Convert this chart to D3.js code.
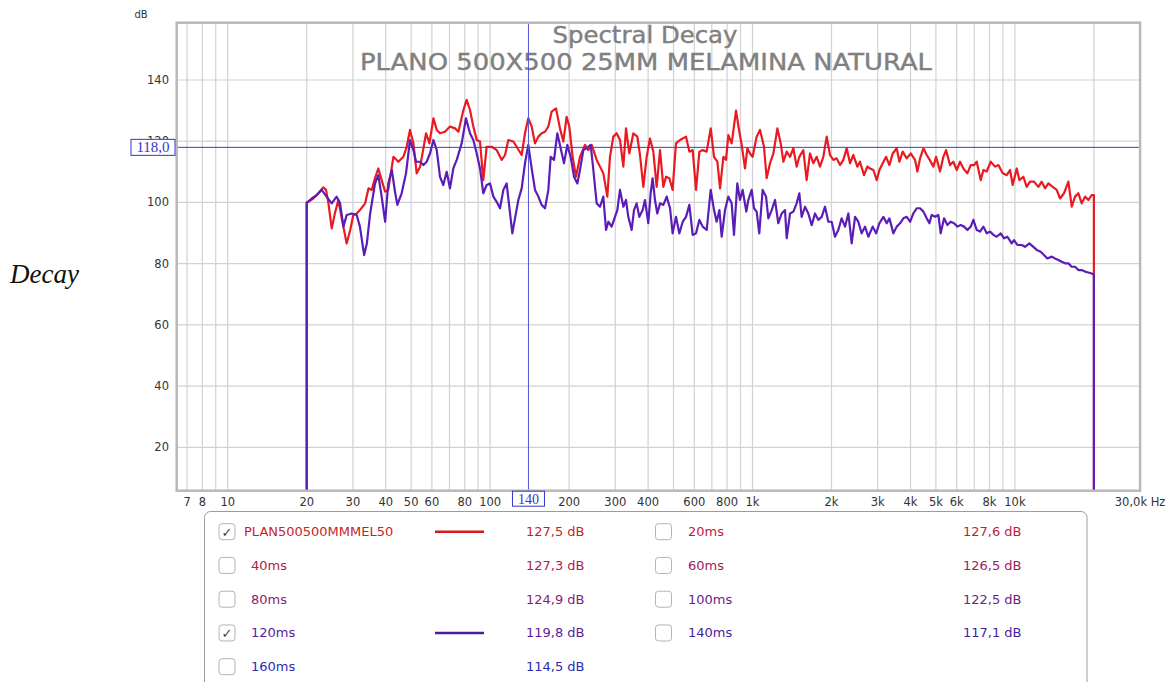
<!DOCTYPE html>
<html>
<head>
<meta charset="utf-8">
<script src="https://cdn.jsdelivr.net/npm/d3@7"></script>
<style>
  html, body { margin: 0; padding: 0; background: #fff; }
  svg { display: block; font-family: "DejaVu Sans", sans-serif; }
</style>
</head>
<body>
<div id="chart"></div>
<script>
// Spectral decay slices: [Hz, dB]
const slice0ms = [
  [20, 99.9], [21.2, 101.3], [22.1, 102.8], [23.1, 104.9], [23.7, 104.1], [24.2, 99.7], [24.9, 91.5],
  [25.6, 96.4], [26.4, 100.8], [27.2, 94.8], [28.4, 86.6], [29.3, 91.0], [30.1, 95.9], [31.0, 96.4],
  [31.9, 97.5], [33.4, 99.7], [34.4, 104.6], [35.4, 104.1], [36.4, 107.9], [37.5, 111.1], [38.6, 107.3],
  [39.8, 103.5], [40.9, 104.1], [42.8, 114.9], [44.7, 113.3], [46.7, 114.9], [48.1, 118.2], [49.5, 123.7],
  [51.0, 119.3], [52.5, 109.5], [54.1, 111.7], [55.7, 117.7], [57.0, 122.6], [58.7, 119.3], [60.8, 127.5],
  [62.6, 123.7], [64.4, 122.6], [67.3, 123.1], [70.3, 124.8], [73.5, 124.2], [75.7, 123.1], [79.1, 130.2],
  [81.4, 133.5], [83.8, 130.2], [86.3, 124.8], [88.9, 120.4], [91.5, 119.9],
  [94.2, 107.3], [97.0, 118.2], [101.4, 118.2], [105.9, 117.1], [110.7, 113.9], [114.0, 115.5],
  [117.3, 120.4], [122.6, 119.9], [126.2, 118.2], [131.9, 115.5], [135.8, 122.6], [139.8, 127.5],
  [144.0, 124.8], [148.3, 119.3], [152.7, 121.5], [157.2, 122.6], [161.9, 123.1], [166.7, 124.8],
  [171.6, 129.7], [178.3, 130.7], [184.6, 124.2], [190.1, 119.9], [195.7, 128.0], [200.3, 124.8],
  [206.3, 114.9], [212.5, 108.4], [220.0, 114.9], [229.9, 118.8], [236.7, 117.1], [243.8, 118.8],
  [254.7, 113.9], [262.3, 111.7], [270.0, 109.5], [279.7, 101.9], [286.3, 114.9], [294.8, 121.5],
  [303.5, 122.6], [312.6, 120.4], [321.9, 111.7], [329.5, 124.2], [339.2, 116.0], [351.4, 122.6],
  [363.9, 121.5], [372.5, 115.5], [383.6, 105.1], [395.0, 114.9], [406.6, 120.9], [418.7, 116.6],
  [431.2, 105.1],
  [444.1, 117.1], [457.3, 105.1], [468, 108.4], [482, 107.9], [496, 104.1], [511, 119.3], [529.3, 120.4],
  [557.9, 121.5], [574.5, 116.6], [591.5, 117.1], [609.1, 104.1], [627.2, 116.6], [645.9, 117.1],
  [668.9, 116.6], [692.9, 124.2], [713.4, 114.9], [734.6, 113.3], [752.0, 104.6], [774.4, 114.9],
  [792.5, 113.9], [808.9, 122.0], [832.9, 119.3], [865.2, 130.0], [890.7, 123.1], [909.2, 118.8],
  [936.3, 111.1], [955.7, 117.7], [978.3, 116.0], [1001, 114.9], [1037, 121.5], [1068, 123.7],
  [1106, 118.2], [1132, 107.9], [1166, 112.8], [1201, 116.0], [1244, 124.2], [1281, 119.3],
  [1311, 113.3], [1350, 116.6], [1390, 114.9], [1431, 117.7], [1473, 111.7], [1508, 114.9],
  [1562, 117.1], [1608, 107.3], [1656, 116.0], [1705, 112.8], [1756, 114.9], [1808, 111.7],
  [1862, 114.9], [1917, 121.5], [1974, 115.5], [2033, 113.9], [2093, 114.4], [2155, 112.2],
  [2219, 113.9], [2285, 117.7], [2353, 112.8], [2423, 115.5], [2509, 111.7], [2568, 113.3],
  [2660, 108.9], [2739, 111.7],
  [2805, 111.1], [2888, 110.6], [2974, 107.3], [3045, 110.6], [3135, 112.8], [3228, 114.9],
  [3324, 112.2], [3423, 116.0], [3545, 117.7], [3629, 113.3], [3736, 116.6], [3870, 114.4],
  [4008, 116.0], [4163, 113.9], [4250, 110.1], [4351, 114.4], [4480, 117.7], [4613, 115.5],
  [4736, 113.9], [4891, 111.7], [5007, 114.9], [5184, 110.1], [5338, 114.9], [5465, 117.1],
  [5660, 112.2], [5828, 113.3], [6001, 110.6], [6179, 113.3], [6363, 111.1], [6590, 109.5],
  [6786, 112.2], [6987, 112.2], [7152, 113.3], [7408, 107.3], [7583, 110.6], [7808, 110.1],
  [8087, 113.3], [8400, 111.7], [8650, 112.2], [8985, 109.5], [9306, 108.9], [9582, 110.6],
  [9809, 105.7], [10159, 111.1], [10400, 107.3], [10772, 108.4], [11090, 105.1], [11419, 106.8],
  [11828, 106.8], [12285, 105.1], [12649, 106.8], [13025, 104.6], [13412, 106.2], [13932, 105.1],
  [14429, 104.1], [14858, 101.3], [15389, 103.0], [15989, 106.8], [16463, 98.6], [16951, 101.9],
  [17454, 103.0], [17972, 99.7], [18505, 101.9], [19054, 100.8], [19620, 102.4], [20000, 102.4]
];

const slice120ms = [
  [20, 99.9], [20.9, 101.3], [21.8, 102.4], [22.8, 104.1], [23.8, 101.9], [24.9, 99.7], [26.0, 101.9],
  [26.8, 99.7], [27.6, 92.1], [28.4, 95.9], [29.7, 96.4], [31.0, 95.9], [31.9, 92.1], [33.1, 82.8],
  [33.9, 86.6], [34.9, 96.4], [36.4, 106.2], [37.5, 108.9], [38.6, 101.9], [39.8, 93.7], [40.9, 106.2],
  [42.2, 110.6], [43.4, 103.5], [44.3, 99.2], [46.0, 103.0], [47.8, 109.5], [49.5, 120.4], [51.0, 117.1],
  [52.2, 113.3], [54.1, 113.3], [55.7, 112.2], [57.3, 113.3], [59.0, 116.0], [60.8, 120.4], [62.6, 117.1],
  [64.4, 108.4], [66.3, 105.7], [68.3, 110.0], [70.3, 104.6], [72.4, 111.1], [74.6, 113.9], [77.9, 119.3],
  [80.9, 127.5], [83.8, 122.6], [86.3, 120.4], [88.9, 116.0], [91.5, 111.1],
  [94.2, 103.0], [97.0, 105.7], [99.9, 106.2], [102.9, 101.9], [105.9, 100.2], [109.1, 98.1],
  [112.3, 104.1], [115.6, 106.2], [119.1, 96.4], [121.5, 89.9], [124.4, 94.8], [128.1, 100.8],
  [131.9, 104.6], [135.8, 112.8], [139.8, 118.8], [144.0, 111.1], [148.3, 104.1], [152.7, 101.9],
  [157.2, 99.2], [161.9, 98.1], [166.7, 104.1], [170.1, 114.9], [175.2, 113.9], [180.3, 122.6],
  [185.7, 117.7], [191.2, 112.8], [196.9, 118.8], [202.7, 114.9], [208.8, 108.4], [215.0, 106.2],
  [220.0, 110.6], [226.6, 117.1], [233.3, 117.7], [241.7, 118.8], [247.4, 110.6], [254.7, 99.7],
  [262.3, 98.6], [270.0, 101.9], [276.5, 91.0], [282.2, 93.7], [290.5, 92.1], [299.1, 95.3],
  [305.3, 97.5], [312.6, 104.1], [321.9, 98.6], [329.5, 100.8], [336.2, 95.3], [346.3, 91.0],
  [353.4, 97.5], [361.7, 99.7], [370.3, 95.3], [381.3, 97.5], [389.2, 100.8], [400.7, 93.2],
  [409.0, 103.0], [416.2, 107.9], [424.9, 100.8], [433.7, 96.4],
  [444.1, 99.7], [457.3, 99.2], [470.9, 101.9], [484.9, 98.1], [496, 89.9], [511, 95.3], [526, 89.9],
  [542, 93.7], [557.9, 95.3], [574.5, 99.2], [591.5, 89.4], [609.1, 89.9], [627.2, 94.3], [645.9, 92.1],
  [668.9, 91.0], [692.9, 104.1], [713.4, 97.5], [730, 93.7], [748, 97.5], [762.9, 88.8], [785.6, 97.5],
  [808.9, 101.9], [832.9, 99.7], [850, 89.4], [875, 106.2], [896, 100.8], [917, 104.1], [947, 97.0],
  [964, 100.8], [992.6, 104.1], [1013, 98.1], [1037, 97.0], [1061, 89.9], [1093, 104.1], [1126, 101.9],
  [1149, 94.8], [1183, 97.5], [1218, 100.8], [1254, 93.2], [1292, 96.4], [1330, 97.5], [1350, 88.3],
  [1390, 96.4], [1431, 97.0], [1473, 99.7], [1508, 103.0], [1539, 95.3], [1585, 98.6], [1632, 96.4],
  [1681, 92.6], [1730, 96.4], [1782, 94.3], [1835, 95.3], [1889, 98.6], [1945, 93.7], [2003, 93.7],
  [2062, 88.8], [2123, 91.0], [2186, 94.8], [2252, 92.1], [2319, 96.4], [2388, 86.6], [2459, 95.3],
  [2531, 93.7], [2606, 89.9], [2684, 92.1], [2763, 88.8],
  [2872, 92.1], [2957, 89.9], [3045, 93.2], [3153, 95.3], [3247, 93.2], [3324, 94.8], [3443, 89.9],
  [3545, 92.1], [3650, 93.2], [3758, 94.8], [3870, 95.3], [3985, 93.7], [4103, 96.4], [4225, 98.1],
  [4351, 98.1], [4480, 97.0], [4613, 94.8], [4722, 93.2], [4819, 95.9], [4962, 95.3], [5109, 95.9],
  [5214, 89.9], [5370, 94.8], [5529, 92.6], [5693, 93.7], [5862, 93.2], [6036, 92.1], [6215, 92.6],
  [6400, 92.1], [6590, 91.0], [6786, 92.1], [6946, 94.3], [7152, 91.0], [7365, 90.5], [7583, 92.1],
  [7808, 89.9], [8040, 90.5], [8278, 89.4], [8524, 88.8], [8829, 89.9], [9091, 88.3], [9361, 88.8],
  [9723, 86.6], [9924, 87.7], [10219, 86.1], [10616, 86.1], [10929, 85.5], [11353, 86.6], [11759, 85.5],
  [12108, 84.5], [12539, 83.9], [12912, 82.8], [13295, 81.7], [13810, 82.3], [14220, 81.7],
  [14642, 81.2], [15077, 80.6], [15525, 80.1], [15989, 80.1], [16463, 79.0], [16951, 79.0],
  [17454, 77.9], [17972, 77.9], [18505, 77.4], [19054, 77.1], [19620, 76.8], [20000, 76.3]
];

// axis ticks and cursor
const xTickValues = [7, 8, 10, 20, 30, 40, 50, 60, 80, 100, 200, 300, 400, 600, 800,
  1000, 2000, 3000, 4000, 5000, 6000, 8000, 10000];
const yTickValues = [20, 40, 60, 80, 100, 120, 140];
const cursorHz = 140;
const cursorDb = 118.0;

// legend
const legendNames = ['PLAN500500MMMEL50', '20ms', '40ms', '60ms', '80ms', '100ms', '120ms', '140ms', '160ms'];
const legendValues = [127.5, 127.6, 127.3, 126.5, 124.9, 122.5, 119.8, 117.1, 114.5];
const legendChecked = [true, false, false, false, false, false, true, false, false];

const legendColors = ['#c81e28', '#c01c3c', '#b01c4c', '#9c1c60', '#861c74', '#6e1e88', '#5a1e98', '#441fa2', '#2a2cb0'];
const curveColors = { 0: '#ea1a20', 6: '#5b1db8' };
const sampleColors = { 0: '#d81a1a', 6: '#4a1c9e' };

const width = 1172;
const height = 682;
const plot = { left: 176.7, right: 1140.1, top: 22.7, bottom: 490.7 };

const svg = d3.select('#chart')
  .append('svg')
  .attr('width', width)
  .attr('height', height);

const x = d3.scaleLog()
  .domain([6.39, 30000])
  .range([plot.left, plot.right]);

const y = d3.scaleLinear()
  .domain([5.83, 158.72])
  .range([plot.bottom, plot.top]);

svg.append('defs').append('clipPath')
  .attr('id', 'plot-clip')
  .append('rect')
  .attr('x', plot.left)
  .attr('y', plot.top)
  .attr('width', plot.right - plot.left)
  .attr('height', plot.bottom - plot.top);

// background
svg.append('rect')
  .attr('x', plot.left)
  .attr('y', plot.top)
  .attr('width', plot.right - plot.left)
  .attr('height', plot.bottom - plot.top)
  .attr('fill', '#fff');

// grid
const grid = svg.append('g');
grid.selectAll('.vgrid')
  .data(x.ticks().filter(t => t > 6.39 && t < 30000))
  .enter()
  .append('line')
  .attr('x1', d => x(d))
  .attr('x2', d => x(d))
  .attr('y1', plot.top)
  .attr('y2', plot.bottom)
  .attr('stroke', '#d2d2d2')
  .attr('stroke-width', 1.2);

grid.selectAll('.hgrid')
  .data(yTickValues)
  .enter()
  .append('line')
  .attr('x1', plot.left)
  .attr('x2', plot.right)
  .attr('y1', d => y(d))
  .attr('y2', d => y(d))
  .attr('stroke', '#d2d2d2')
  .attr('stroke-width', 1.2);

// title
svg.append('text')
  .attr('x', 645)
  .attr('y', 43)
  .attr('text-anchor', 'middle')
  .attr('textLength', 185)
  .attr('lengthAdjust', 'spacingAndGlyphs')
  .style('font-size', '23px')
  .style('fill', '#808080')
  .style('stroke', '#808080')
  .style('stroke-width', 0.4)
  .text('Spectral Decay');

svg.append('text')
  .attr('x', 646)
  .attr('y', 70)
  .attr('text-anchor', 'middle')
  .attr('textLength', 572)
  .attr('lengthAdjust', 'spacingAndGlyphs')
  .style('font-size', '23px')
  .style('fill', '#808080')
  .style('stroke', '#808080')
  .style('stroke-width', 0.4)
  .text('PLANO 500X500 25MM MELAMINA NATURAL');

// curves, dropping to the floor at both ends
const line = d3.line()
  .x(d => x(d[0]))
  .y(d => y(d[1]));

const floorDb = y.domain()[0] - 5;
function withEnds(pts) {
  return [[pts[0][0], floorDb], ...pts, [pts[pts.length - 1][0], floorDb]];
}

const curves = svg.append('g').attr('clip-path', 'url(#plot-clip)');
[[slice0ms, curveColors[0]], [slice120ms, curveColors[6]]].forEach(([pts, color]) => {
  curves.append('path')
    .attr('d', line(withEnds(pts)))
    .attr('fill', 'none')
    .attr('stroke', color)
    .attr('stroke-width', 2.2)
    .attr('stroke-linejoin', 'round');
});

// cursor lines
svg.append('line')
  .attr('x1', plot.left)
  .attr('x2', plot.right)
  .attr('y1', y(cursorDb))
  .attr('y2', y(cursorDb))
  .attr('stroke', '#3a3ad6')
  .attr('stroke-width', 1);

svg.append('line')
  .attr('x1', x(cursorHz))
  .attr('x2', x(cursorHz))
  .attr('y1', plot.top)
  .attr('y2', plot.bottom)
  .attr('stroke', '#5454d4')
  .attr('stroke-width', 1);

// frame
svg.append('rect')
  .attr('x', plot.left)
  .attr('y', plot.top)
  .attr('width', plot.right - plot.left)
  .attr('height', plot.bottom - plot.top)
  .attr('fill', 'none')
  .attr('stroke', '#b9b9b9')
  .attr('stroke-width', 2.5);

// y labels
svg.selectAll('.ylab')
  .data(yTickValues)
  .enter()
  .append('text')
  .attr('x', 169)
  .attr('y', d => y(d) + 4)
  .attr('text-anchor', 'end')
  .style('font-size', '11.5px')
  .style('fill', '#333')
  .text(d => d);

svg.append('text')
  .attr('x', 141)
  .attr('y', 18)
  .attr('text-anchor', 'middle')
  .style('font-size', '10px')
  .style('fill', '#333')
  .text('dB');

// x labels
const fmtHz = d => d >= 1000 ? (d / 1000) + 'k' : String(d);
svg.selectAll('.xlab')
  .data(xTickValues)
  .enter()
  .append('text')
  .attr('x', d => x(d))
  .attr('y', 506)
  .attr('text-anchor', 'middle')
  .style('font-size', '11.5px')
  .style('fill', '#333')
  .text(fmtHz);

svg.append('text')
  .attr('x', x(30000))
  .attr('y', 506)
  .attr('text-anchor', 'middle')
  .style('font-size', '11.5px')
  .style('fill', '#333')
  .text('30,0k Hz');

// cursor readouts
const fmtComma = d3.format('.1f');
svg.append('rect')
  .attr('x', 131)
  .attr('y', y(cursorDb) - 8)
  .attr('width', 44)
  .attr('height', 16)
  .attr('fill', '#fff')
  .attr('stroke', '#3434cc');
svg.append('text')
  .attr('x', 153)
  .attr('y', y(cursorDb) + 5)
  .attr('text-anchor', 'middle')
  .style('font-family', '"Liberation Serif", serif')
  .style('font-size', '15px')
  .style('fill', '#3434cc')
  .text(fmtComma(cursorDb).replace('.', ','));

svg.append('rect')
  .attr('x', x(cursorHz) - 16)
  .attr('y', plot.bottom + 0.5)
  .attr('width', 32)
  .attr('height', 15)
  .attr('fill', '#fff')
  .attr('stroke', '#3434cc');
svg.append('text')
  .attr('x', x(cursorHz))
  .attr('y', plot.bottom + 13)
  .attr('text-anchor', 'middle')
  .style('font-family', '"Liberation Serif", serif')
  .style('font-size', '14px')
  .style('fill', '#3434cc')
  .text(cursorHz);

// stray page text on the left
svg.append('text')
  .attr('x', 10)
  .attr('y', 283)
  .style('font-family', '"Liberation Serif", serif')
  .style('font-style', 'italic')
  .style('font-size', '27px')
  .style('fill', '#111')
  .text('Decay');

// legend panel
svg.append('rect')
  .attr('x', 204.5)
  .attr('y', 511.5)
  .attr('width', 882.5)
  .attr('height', 200)
  .attr('rx', 6)
  .attr('fill', '#fff')
  .attr('stroke', '#9c9c9c');

const cols = [
  { box: 219, label: 251, value: 526 },
  { box: 655.5, label: 688, value: 963 }
];

const items = svg.selectAll('.legend-item')
  .data(legendNames.map((name, i) => ({ name, i })))
  .enter()
  .append('g')
  .attr('transform', d => `translate(0, ${531.7 + Math.floor(d.i / 2) * 33.75})`);

items.append('rect')
  .attr('x', d => cols[d.i % 2].box)
  .attr('y', -8)
  .attr('width', 16)
  .attr('height', 16)
  .attr('rx', 3)
  .attr('fill', '#fff')
  .attr('stroke', '#b4b4b4');

items.filter(d => legendChecked[d.i])
  .append('text')
  .attr('x', d => cols[d.i % 2].box + 8)
  .attr('y', 5)
  .attr('text-anchor', 'middle')
  .style('font-size', '13px')
  .style('fill', '#444')
  .text('\u2713');

items.append('text')
  .attr('x', d => d.i === 0 ? 244 : cols[d.i % 2].label)
  .attr('y', 4.5)
  .style('font-size', '13px')
  .style('fill', d => legendColors[d.i])
  .text(d => d.name);

items.filter(d => legendChecked[d.i])
  .append('line')
  .attr('x1', 435)
  .attr('x2', 484)
  .attr('y1', 0)
  .attr('y2', 0)
  .attr('stroke', d => sampleColors[d.i])
  .attr('stroke-width', 2.5);

items.append('text')
  .attr('x', d => cols[d.i % 2].value)
  .attr('y', 4.5)
  .style('font-size', '13px')
  .style('fill', d => legendColors[d.i])
  .text(d => fmtComma(legendValues[d.i]).replace('.', ',') + ' dB');
</script>
</body>
</html>
